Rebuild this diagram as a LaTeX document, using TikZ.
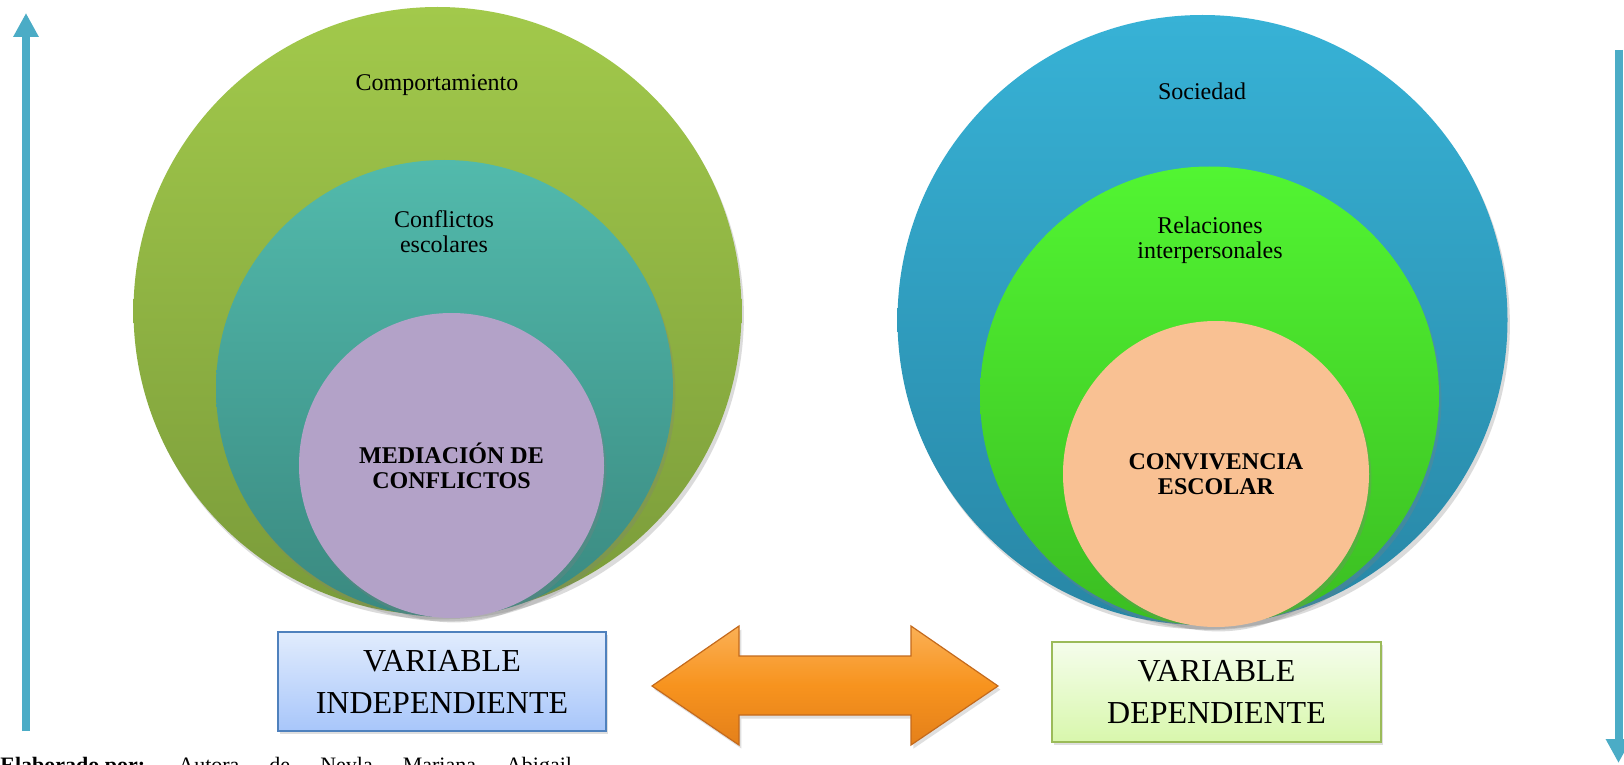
\documentclass[tikz,border=0pt]{standalone}
\usepackage{fontspec}
\setmainfont{Liberation Serif}
\usetikzlibrary{shadows,arrows.meta}
\definecolor{loTop}{HTML}{A2C94B}
\definecolor{loBot}{HTML}{7A9B3A}
\definecolor{lmTop}{HTML}{52BAAC}
\definecolor{lmBot}{HTML}{3A8980}
\definecolor{liFill}{HTML}{B3A2C8}
\definecolor{roTop}{HTML}{37B2D6}
\definecolor{roBot}{HTML}{2886A5}
\definecolor{rmTop}{HTML}{52F532}
\definecolor{rmBot}{HTML}{3BBD22}
\definecolor{riFill}{HTML}{F9C193}
\definecolor{lbTop}{HTML}{E1ECFD}
\definecolor{lbBot}{HTML}{A8C6FA}
\definecolor{lbLine}{HTML}{4F81BD}
\definecolor{rbTop}{HTML}{F5FDEC}
\definecolor{rbBot}{HTML}{D8F7AC}
\definecolor{rbLine}{HTML}{9BBB59}
\definecolor{orTop}{HTML}{FBB055}
\definecolor{orMid}{HTML}{F7931E}
\definecolor{orBot}{HTML}{E4801A}
\definecolor{orLine}{HTML}{C46A1C}
\definecolor{arBlue}{HTML}{4BACC6}
\begin{document}
\begin{tikzpicture}[x=0.5pt,y=-0.5pt,
  circ/.style={circle, inner sep=0pt, draw=none,
    drop shadow={opacity=0.28, shadow xshift=1.2pt, shadow yshift=-2.2pt}},
  lbl/.style={font=\fontsize{12}{12.5}\selectfont, align=center, inner sep=0pt},
  blbl/.style={font=\bfseries\fontsize{12}{12.5}\selectfont, align=center},
  varbox/.style={rectangle, inner sep=0pt, line width=0.8pt,
    font=\fontsize{16}{21}\selectfont, align=center,
    drop shadow={opacity=0.25, shadow xshift=1.2pt, shadow yshift=-1.5pt}},
  bluearrow/.style={draw=arBlue, line width=4pt,
    -{Triangle[width=12pt,length=12pt]}}
]
\fill[white] (0,0) rectangle (1624,765);
\useasboundingbox (0,0) rectangle (1624,765);

% left circles
\node[circ, minimum size=304pt, top color=loTop, bottom color=loBot] (LO) at (437.5,311) {};
\node[circ, minimum size=228.5pt, top color=lmTop, bottom color=lmBot] (LM) at (444.5,388.5) {};
\node[circ, minimum size=152.5pt, fill=liFill, blbl] (LI) at (451.5,465.5) {MEDIACIÓN DE\\CONFLICTOS};
\node[lbl] (LOt) at (437,85) {Comportamiento};
\node[lbl] (LMt) at (444,232) {Conflictos\\escolares};

% right circles
\node[circ, minimum size=305pt, top color=roTop, bottom color=roBot] (RO) at (1202.5,320) {};
\node[circ, minimum size=229.5pt, top color=rmTop, bottom color=rmBot] (RM) at (1209.5,396) {};
\node[circ, minimum size=153pt, fill=riFill, blbl] (RI) at (1216,474) {CONVIVENCIA\\ESCOLAR};
\node[lbl] (ROt) at (1202,91) {Sociedad};
\node[lbl] (RMt) at (1210,240) {Relaciones\\interpersonales};

% variable boxes
\node[varbox, draw=lbLine, top color=lbTop, bottom color=lbBot,
  minimum width=164pt, minimum height=49.5pt] (VI) at (442,681.5) {VARIABLE\\INDEPENDIENTE};
\node[varbox, draw=rbLine, top color=rbTop, bottom color=rbBot,
  minimum width=164.5pt, minimum height=50pt] (VD) at (1216.5,692) {VARIABLE\\DEPENDIENTE};

% double arrow
\path[draw=orLine, line width=0.6pt, top color=orTop, bottom color=orBot, middle color=orMid,
  drop shadow={opacity=0.25, shadow xshift=1.2pt, shadow yshift=-1.8pt}]
  (652,686) -- (739,626) -- (739,656) -- (911,656) -- (911,626) -- (998,686)
  -- (911,745) -- (911,715) -- (739,715) -- (739,745) -- cycle;

% vertical arrows
\coordinate (la0) at (26,731);
\coordinate (la1) at (26,13);
\draw[bluearrow] (la0) -- (la1);
\coordinate (ra0) at (1618.5,50);
\coordinate (ra1) at (1618.5,763);
\draw[bluearrow] (ra0) -- (ra1);

% caption (cut by the page edge)
\node[anchor=base west, inner sep=0pt, font=\fontsize{11}{13}\selectfont] (cap) at (0,772)
  {\makebox[89pt][l]{\textbf{Elaborado por:}}Autora\hspace{15pt}de\hspace{15pt}Neyla\hspace{15pt}Mariana\hspace{15pt}Abigail};
\end{tikzpicture}
\end{document}
